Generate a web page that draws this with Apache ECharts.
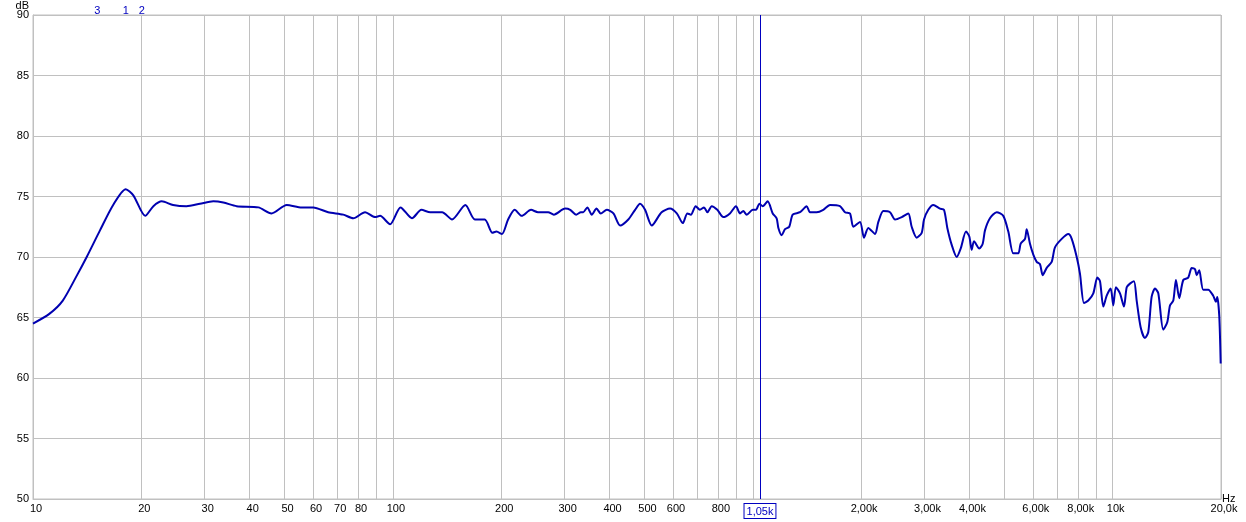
<!DOCTYPE html>
<html>
<head>
<meta charset="utf-8">
<script src="https://cdn.jsdelivr.net/npm/echarts@6/dist/echarts.min.js"></script>
<style>
	html, body { margin: 0; padding: 0; background: #fff; }
	#chart1 { width: 1246px; height: 522px; }
</style>
</head>
<body>
<div id="chart1"></div>
<script>
// measured response, Hz / dB
var freq = [10, 11.1, 12.1, 13.2, 14.1, 15.35, 16.7, 18.1, 19.0, 20.5, 21.6, 22.8, 24.5, 26.7, 29.1, 31.7, 33.8, 36.8, 42.3, 46.0,
	50.7, 55.8, 60.1, 66.1, 72.8, 77.6, 83.7, 89.2, 92.1, 98.2, 105, 113, 120, 127, 137, 146, 159, 169, 180, 189,
	194, 201, 209, 218, 228, 242, 253, 270, 280, 301, 311, 323, 333, 338, 347, 357, 368, 378, 393, 410,
	428, 451, 471, 486, 502, 524, 558, 589, 615, 639, 658, 673, 694, 713, 732, 748, 769, 797, 828, 864,
	898, 922, 941, 962, 1000, 1021, 1043, 1066, 1100, 1136, 1165, 1178, 1203, 1229, 1263, 1291, 1353, 1412, 1442, 1505,
	1570, 1639, 1747, 1804, 1863, 1903, 1986, 2037, 2094, 2186, 2233, 2306, 2406, 2485, 2594, 2705, 2764, 2854, 2947, 2991,
	3074, 3174, 3313, 3399, 3472, 3571, 3687, 3782, 3913, 3996, 4058, 4118, 4260, 4354, 4418, 4561, 4761, 4967, 5129, 5296,
	5468, 5552, 5707, 5769, 5892, 6018, 6150, 6282, 6392, 6557, 6770, 6914, 7218, 7529, 7695, 7945, 8114, 8324, 8557, 8835,
	9064, 9222, 9419, 9626, 9874, 10040, 10210, 10480, 10750, 10940, 11170, 11460, 11660, 11960, 12290, 12560, 12830, 13110, 13390, 13820,
	14180, 14430, 14740, 14990, 15310, 15710, 16220, 16580, 16930, 17120, 17400, 17850, 18430, 19030, 19360, 19530, 19780, 19960];
var db = [64.5, 65.3, 66.4, 68.4, 70.0, 72.2, 74.3, 75.6, 75.1, 73.4, 74.2, 74.6, 74.3, 74.2, 74.4, 74.6, 74.5, 74.2, 74.1, 73.6,
	74.3, 74.1, 74.1, 73.7, 73.5, 73.2, 73.7, 73.3, 73.4, 72.7, 74.1, 73.2, 73.9, 73.7, 73.7, 73.1, 74.3, 73.1, 73.1, 72.0,
	72.1, 71.9, 73.1, 73.9, 73.4, 73.9, 73.7, 73.7, 73.5, 74.0, 73.9, 73.5, 73.7, 73.7, 74.1, 73.5, 74.0, 73.6, 73.9, 73.6,
	72.6, 73.1, 73.9, 74.4, 73.9, 72.6, 73.7, 74.0, 73.6, 72.8, 73.6, 73.5, 74.2, 73.9, 74.1, 73.7, 74.2, 73.9, 73.3, 73.6,
	74.2, 73.6, 73.8, 73.5, 73.9, 73.9, 74.4, 74.2, 74.6, 73.6, 73.2, 72.4, 71.8, 72.3, 72.5, 73.5, 73.7, 74.2, 73.7, 73.7,
	73.9, 74.3, 74.2, 73.7, 73.6, 72.5, 72.9, 71.6, 72.4, 71.9, 72.9, 73.8, 73.7, 73.1, 73.3, 73.6, 72.5, 71.6, 72.0, 73.1,
	73.9, 74.3, 74.0, 73.9, 72.4, 71.0, 70.0, 70.7, 72.1, 71.7, 70.6, 71.3, 70.7, 71.1, 72.2, 73.2, 73.7, 73.4, 72.1, 70.3,
	70.3, 71.1, 71.5, 72.3, 71.1, 70.2, 69.6, 69.4, 68.5, 69.1, 69.6, 70.8, 71.5, 71.9, 71.5, 70.0, 68.6, 66.2, 66.4, 67.0,
	68.3, 68.0, 65.9, 66.8, 67.4, 66.0, 67.5, 67.0, 65.9, 67.5, 67.8, 68.0, 66.4, 64.2, 63.3, 63.8, 66.7, 67.4, 67.0, 64.0,
	64.6, 66.0, 66.4, 68.1, 66.6, 68.1, 68.3, 69.1, 69.0, 68.5, 68.9, 67.3, 67.3, 66.8, 66.3, 66.7, 65.1, 61.2];

var gridFreqs = [10, 20, 30, 40, 50, 60, 70, 80, 90, 100, 200, 300, 400, 500, 600, 700, 800, 900,
	1000, 2000, 3000, 4000, 5000, 6000, 7000, 8000, 9000, 10000, 20000];
var labelFreqs = [10, 20, 30, 40, 50, 60, 70, 80, 100, 200, 300, 400, 500, 600, 800,
	2000, 3000, 4000, 6000, 8000, 10000, 20000];
var markerFreqs = [15.1, 18.1, 20.05];
var markerNames = ['3', '1', '2'];
var cursorFreq = 1050;

window.onload = function(){
	drawChart();
}

function lg(f){
	return Math.log10(f);
}

function fmtFreq(v){
	var f = Math.round(Math.pow(10, v));
	if (f < 1000) return String(f);
	if (f == 10000) return '10k';
	if (f > 10000) return (f / 1000).toFixed(1).replace('.', ',') + 'k';
	return (f / 1000).toFixed(2).replace('.', ',') + 'k';
}

function drawChart(){
	var chart = echarts.init(document.getElementById('chart1'));
	var data = freq.map(function(f, i){ return [lg(f), db[i]]; });
	var cursorStyle = { color: '#0000c0', width: 1, type: 'solid' };
	var option = {
		animation: false,
		backgroundColor: '#fff',
		grid: {
			left: 33,
			right: 25,
			top: 15,
			bottom: 23,
			outerBoundsMode: 'none',
			containLabel: false,
			show: true,
			borderColor: '#c0c0c0',
			borderWidth: 1
		},
		xAxis: [
			{
				type: 'value',
				min: lg(10),
				max: lg(20000),
				name: 'Hz',
				nameLocation: 'end',
				nameGap: 1,
				nameMoveOverlap: false,
				nameTextStyle: { color: '#000', fontSize: 11, fontFamily: 'Liberation Sans', verticalAlign: 'bottom', padding: [0, 0, -5, 0] },
				axisLine: { lineStyle: { color: '#c0c0c0' } },
				axisTick: { show: false, customValues: gridFreqs.map(lg) },
				axisLabel: {
					customValues: labelFreqs.map(lg),
					formatter: fmtFreq,
					color: '#000',
					fontSize: 11,
					fontFamily: 'Liberation Sans',
					margin: 4,
					padding: [0, 0, 0, 6]
				},
				splitLine: { show: true, lineStyle: { color: '#c0c0c0', width: 1 } }
			},
			{
				type: 'value',
				position: 'top',
				min: lg(10),
				max: lg(20000),
				axisLine: { show: false },
				axisTick: { show: false },
				splitLine: { show: false },
				axisLabel: {
					customValues: markerFreqs.map(lg),
					formatter: function(v){
						var best = 0;
						for (var i = 0; i < markerFreqs.length; i++) {
							if (Math.abs(lg(markerFreqs[i]) - v) < Math.abs(lg(markerFreqs[best]) - v)) best = i;
						}
						return markerNames[best];
					},
					color: '#0000c0',
					fontSize: 11,
					fontFamily: 'Liberation Sans',
					margin: -1
				}
			}
		],
		yAxis: {
			type: 'value',
			min: 50,
			max: 90,
			interval: 5,
			name: 'dB',
			nameLocation: 'end',
			nameGap: 4,
			nameMoveOverlap: false,
			nameTextStyle: { color: '#000', fontSize: 11, fontFamily: 'Liberation Sans', align: 'right', padding: [0, 4, 0, 0] },
			axisLine: { show: true, lineStyle: { color: '#c0c0c0' } },
			axisTick: { show: false },
			axisLabel: { color: '#000', fontSize: 11, fontFamily: 'Liberation Sans', margin: 4 },
			splitLine: { show: true, lineStyle: { color: '#c0c0c0', width: 1 } }
		},
		series: [
			{
				type: 'line',
				xAxisIndex: 0,
				data: data,
				showSymbol: false,
				smooth: 0.25,
				color: '#0000b0',
				lineStyle: { color: '#0000b0', width: 2 },
				markLine: {
					silent: true,
					symbol: ['none', 'none'],
					itemStyle: { color: '#0000c0' },
					lineStyle: cursorStyle,
					emphasis: { disabled: true },
					label: {
						show: true,
						position: 'start',
						distance: 5,
						formatter: function(p){ return fmtFreq(p.value); },
						color: '#0000c0',
						fontSize: 11,
						fontFamily: 'Liberation Sans',
						backgroundColor: '#fff',
						borderColor: '#0000c0',
						borderWidth: 1,
						padding: [2, 2, 1, 2]
					},
					data: [{ xAxis: lg(cursorFreq), lineStyle: cursorStyle }]
				}
			}
		]
	};
	chart.setOption(option);
}
</script>
</body>
</html>
